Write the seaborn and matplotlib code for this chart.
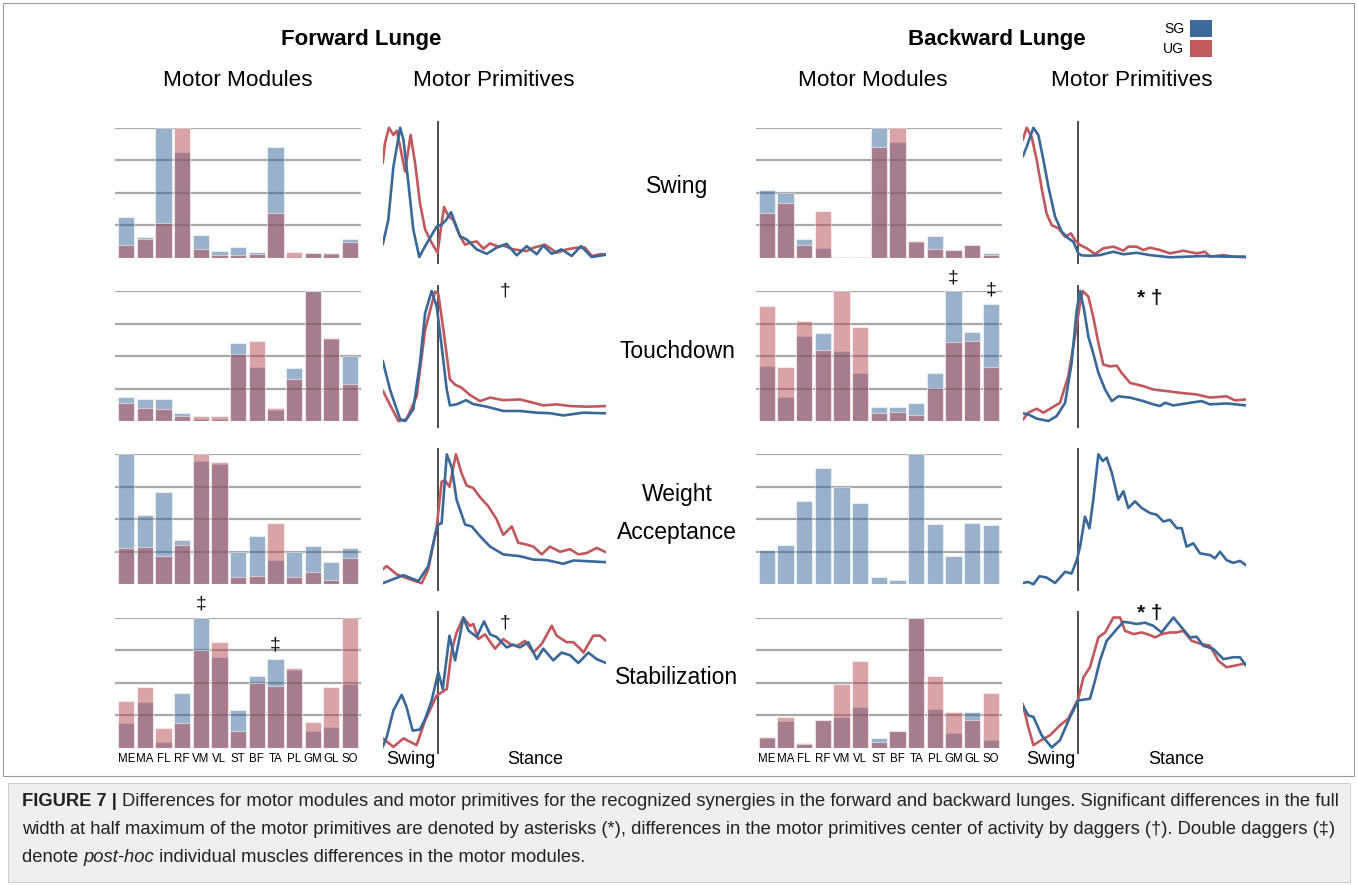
import numpy as np
import pandas as pd
import matplotlib
matplotlib.use("Agg")
import matplotlib.pyplot as plt
from matplotlib.patches import Rectangle
import seaborn as sns

# ---------------- data ----------------
MUSCLES = ['ME', 'MA', 'FL', 'RF', 'VM', 'VL', 'ST', 'BF', 'TA', 'PL', 'GM', 'GL', 'SO']

FL_SW_SG = [0.31, 0.156, 1.0, 0.815, 0.172, 0.049, 0.08, 0.044, 0.849, 0.008, 0.033, 0.028, 0.144]
FL_SW_UG = [0.097, 0.146, 0.264, 1.0, 0.064, 0.018, 0.023, 0.028, 0.346, 0.041, 0.033, 0.036, 0.123]
FL_TD_SG = [0.182, 0.167, 0.172, 0.064, 0.015, 0.015, 0.597, 0.413, 0.087, 0.408, 1.0, 0.631, 0.497]
FL_TD_UG = [0.141, 0.103, 0.09, 0.041, 0.041, 0.036, 0.515, 0.615, 0.103, 0.323, 1.0, 0.638, 0.287]
FL_WA_SG = [1.0, 0.531, 0.713, 0.338, 0.951, 0.923, 0.246, 0.372, 0.187, 0.246, 0.292, 0.169, 0.279]
FL_WA_UG = [0.282, 0.29, 0.218, 0.305, 1.0, 0.938, 0.059, 0.067, 0.469, 0.059, 0.097, 0.031, 0.205]
FL_ST_SG = [0.192, 0.35, 0.041, 0.417, 1.0, 0.698, 0.289, 0.547, 0.68, 0.596, 0.13, 0.161, 0.486]
FL_ST_UG = [0.355, 0.465, 0.151, 0.192, 0.749, 0.813, 0.128, 0.494, 0.476, 0.611, 0.2, 0.468, 1.0]
BL_SW_SG = [0.523, 0.5, 0.146, 0.072, 0.008, 0.003, 1.0, 0.89, 0.12, 0.164, 0.062, 0.095, 0.033]
BL_SW_UG = [0.341, 0.423, 0.1, 0.356, 0.003, 0.008, 0.851, 1.0, 0.126, 0.067, 0.062, 0.095, 0.018]
BL_TD_SG = [0.421, 0.182, 0.656, 0.674, 0.541, 0.367, 0.105, 0.105, 0.138, 0.367, 1.0, 0.687, 0.903]
BL_TD_UG = [0.885, 0.418, 0.767, 0.546, 1.0, 0.726, 0.062, 0.067, 0.049, 0.256, 0.608, 0.615, 0.413]
BL_WA_SG = [0.264, 0.3, 0.641, 0.897, 0.749, 0.623, 0.056, 0.036, 1.0, 0.467, 0.215, 0.474, 0.454]
BL_WA_UG = None
BL_ST_SG = [0.072, 0.203, 0.036, 0.213, 0.231, 0.31, 0.074, 0.126, 1.0, 0.295, 0.115, 0.274, 0.056]
BL_ST_UG = [0.082, 0.238, 0.026, 0.21, 0.485, 0.664, 0.044, 0.126, 1.0, 0.549, 0.274, 0.215, 0.418]

SWING_END = 24.7  # % of cycle

# motor primitives (x = % cycle, y = normalised amplitude)
FL_SW_SG_X = [0, 2.5, 4.8, 7.8, 9.3, 11.5, 13.7, 16.4, 18.2, 21.2, 24.2, 26.4, 28.4, 30.6, 32.4, 34.6, 37.6, 42.1, 46.6, 51.0,
              55.5, 60.0, 64.5, 69.0, 71.9, 75.7, 80.1, 84.6, 88.8, 93.6, 100]
FL_SW_SG_Y = [0.10, 0.29, 0.70, 1.0, 0.906, 0.574, 0.217, 0.005, 0.064, 0.153, 0.24, 0.255, 0.29, 0.35, 0.268, 0.166, 0.14, 0.064, 0.03, 0.077,
              0.107, 0.018, 0.089, 0.026, 0.094, 0.03, 0.064, 0.013, 0.089, 0.005, 0.023]
FL_SW_UG_X = [0, 1.0, 2.8, 4.8, 6.3, 7.8, 10.0, 12.5, 14.5, 16.7, 19.0, 21.9, 24.6, 26.0, 27.5, 29.4, 31.6, 34.6, 36.9, 39.1,
              42.1, 45.1, 48.1, 51.8, 54.0, 58.5, 64.5, 67.5, 72.7, 77.9, 82.4, 86.9, 90.6, 93.6, 97.3, 100]
FL_SW_UG_Y = [0.727, 0.88, 1.0, 0.944, 0.977, 0.855, 0.663, 0.944, 0.727, 0.42, 0.217, 0.115, 0.038, 0.217, 0.39, 0.32, 0.29, 0.166, 0.10, 0.115,
              0.125, 0.069, 0.11, 0.084, 0.094, 0.064, 0.051, 0.077, 0.10, 0.038, 0.064, 0.077, 0.077, 0.013, 0.026, 0.026]

FL_TD_SG_X = [0, 3.3, 7.8, 10.0, 13.7, 16.7, 19.0, 21.9, 24.2, 26.4, 28.7, 30.1, 33.1, 37.3, 40.6, 46.6, 54.0, 61.5, 69.0, 74.9,
              80.9, 89.9, 100]
FL_TD_SG_Y = [0.464, 0.24, 0.013, 0.0, 0.09, 0.45, 0.83, 1.0, 0.88, 0.574, 0.24, 0.12, 0.128, 0.16, 0.13, 0.11, 0.077, 0.077, 0.064, 0.06,
              0.043, 0.064, 0.059]
FL_TD_UG_X = [0, 7.0, 10.7, 15.2, 19.0, 23.4, 24.9, 27.2, 30.1, 32.4, 35.4, 39.1, 43.6, 48.1, 54.0, 61.5, 67.5, 71.9, 77.9, 83.9,
              91.3, 100]
FL_TD_UG_Y = [0.235, 0.0, 0.013, 0.19, 0.70, 0.995, 0.98, 0.70, 0.32, 0.28, 0.255, 0.20, 0.153, 0.18, 0.16, 0.166, 0.14, 0.12, 0.128, 0.115,
              0.11, 0.115]

FL_WA_SG_X = [0, 9.3, 16.0, 20.4, 23.4, 24.9, 26.4, 28.7, 30.9, 33.1, 36.9, 39.9, 43.6, 48.1, 54.0, 61.5, 67.5, 73.4, 80.9, 85.4,
              91.3, 100]
FL_WA_SG_Y = [0.008, 0.07, 0.025, 0.14, 0.37, 0.46, 0.47, 1.0, 0.90, 0.65, 0.46, 0.445, 0.37, 0.29, 0.23, 0.216, 0.19, 0.186, 0.158, 0.183,
              0.178, 0.17]
FL_WA_UG_X = [0, 1.8, 6.3, 12.2, 17.5, 20.4, 24.2, 26.4, 27.9, 29.9, 32.8, 35.4, 37.6, 40.6, 43.6, 47.3, 51.0, 54.0, 57.8, 60.7,
              64.5, 67.5, 71.2, 74.9, 79.4, 83.9, 87.6, 91.3, 95.8, 100]
FL_WA_UG_Y = [0.115, 0.14, 0.076, 0.038, 0.008, 0.115, 0.445, 0.79, 0.80, 0.75, 1.0, 0.85, 0.76, 0.74, 0.67, 0.60, 0.50, 0.38, 0.445, 0.32,
              0.305, 0.29, 0.23, 0.29, 0.25, 0.27, 0.23, 0.24, 0.28, 0.247]

FL_ST_SG_X = [0, 1.8, 4.8, 8.5, 10.7, 13.4, 16.7, 19.0, 21.9, 24.9, 26.9, 29.9, 32.4, 33.9, 36.1, 38.4, 40.6, 42.1, 45.4, 48.1,
              51.0, 55.5, 58.5, 61.5, 65.2, 69.0, 71.9, 76.4, 80.1, 83.9, 87.6, 92.1, 95.8, 100]
FL_ST_SG_Y = [0.005, 0.08, 0.286, 0.405, 0.31, 0.13, 0.138, 0.22, 0.36, 0.58, 0.45, 0.86, 0.67, 0.80, 1.0, 0.9, 0.87, 0.85, 0.97, 0.87,
              0.85, 0.77, 0.79, 0.77, 0.81, 0.68, 0.76, 0.67, 0.73, 0.71, 0.65, 0.73, 0.68, 0.65]
FL_ST_UG_X = [0, 4.8, 9.3, 15.2, 19.0, 24.2, 28.7, 30.9, 33.1, 36.1, 39.1, 40.6, 42.8, 45.8, 50.3, 54.0, 57.0, 60.0, 63.7, 67.5,
              71.2, 75.7, 77.9, 82.4, 85.4, 88.4, 89.9, 94.3, 97.3, 100]
FL_ST_UG_Y = [0.07, 0.005, 0.07, 0.018, 0.21, 0.40, 0.45, 0.745, 0.885, 1.0, 0.936, 0.95, 0.834, 0.87, 0.76, 0.834, 0.796, 0.78, 0.82, 0.73,
              0.796, 0.936, 0.86, 0.81, 0.81, 0.76, 0.73, 0.86, 0.86, 0.82]

BL_SW_SG_X = [0, 1.8, 4.8, 7.0, 9.3, 11.5, 14.5, 17.5, 20.4, 22.7, 24.9, 26.4, 30.1, 34.6, 40.6, 45.1, 51.0, 57.0, 66.0, 73.4,
              80.9, 91.3, 100]
BL_SW_SG_Y = [0.777, 0.854, 1.0, 0.944, 0.75, 0.546, 0.315, 0.2, 0.149, 0.123, 0.033, 0.018, 0.015, 0.02, 0.046, 0.026, 0.038, 0.02, 0.003, 0.008,
              0.013, 0.008, 0.008]
BL_SW_UG_X = [0, 1.8, 4.0, 6.3, 8.5, 10.7, 13.0, 16.0, 19.0, 21.6, 23.4, 25.7, 28.7, 32.4, 36.1, 40.6, 45.1, 47.3, 51.0, 54.0,
              57.0, 61.5, 66.0, 71.9, 77.9, 81.6, 83.9, 89.9, 94.3, 100]
BL_SW_UG_Y = [0.905, 1.0, 0.93, 0.75, 0.533, 0.34, 0.25, 0.226, 0.16, 0.187, 0.136, 0.097, 0.072, 0.028, 0.072, 0.085, 0.054, 0.085, 0.085, 0.059,
              0.077, 0.059, 0.033, 0.054, 0.033, 0.046, 0.008, 0.02, 0.008, 0.003]

BL_TD_SG_X = [0, 2.5, 6.3, 11.5, 15.2, 19.0, 21.9, 24.2, 25.7, 27.5, 29.4, 31.6, 33.9, 36.9, 39.9, 42.8, 48.1, 54.0, 58.5, 61.5,
              63.7, 67.5, 74.9, 80.1, 83.9, 91.3, 100]
BL_TD_SG_Y = [0.059, 0.051, 0.018, 0.0, 0.038, 0.14, 0.446, 0.855, 1.0, 0.855, 0.65, 0.52, 0.37, 0.242, 0.153, 0.19, 0.18, 0.153, 0.128, 0.115,
              0.14, 0.12, 0.14, 0.153, 0.128, 0.135, 0.12]
BL_TD_UG_X = [0, 2.5, 6.3, 9.3, 13.0, 16.7, 20.4, 23.4, 25.7, 26.9, 29.4, 31.6, 33.9, 36.1, 39.1, 42.1, 44.3, 48.1, 54.0, 58.5,
              64.5, 70.4, 77.9, 83.9, 91.3, 95.1, 100]
BL_TD_UG_Y = [0.008, 0.064, 0.094, 0.064, 0.102, 0.14, 0.344, 0.65, 0.906, 1.0, 0.957, 0.80, 0.6, 0.434, 0.42, 0.426, 0.37, 0.293, 0.268, 0.242,
              0.23, 0.217, 0.204, 0.18, 0.19, 0.158, 0.166]

BL_WA_SG_X = [0, 2.5, 4.8, 7.5, 10.7, 14.5, 19.0, 21.9, 24.2, 25.7, 27.9, 29.9, 31.6, 33.9, 35.8, 37.6, 39.9, 42.8, 45.1, 47.3,
              50.3, 53.3, 57.0, 60.0, 63.0, 66.0, 69.0, 71.2, 73.4, 76.4, 79.4, 83.9, 86.1, 88.4, 91.3, 94.3, 97.3, 100]
BL_WA_SG_Y = [0.01, 0.018, 0.0, 0.062, 0.052, 0.01, 0.096, 0.083, 0.186, 0.29, 0.52, 0.43, 0.65, 1.0, 0.948, 0.974, 0.858, 0.65, 0.716, 0.587,
              0.638, 0.587, 0.548, 0.535, 0.483, 0.496, 0.432, 0.432, 0.29, 0.315, 0.238, 0.225, 0.2, 0.25, 0.186, 0.165, 0.18, 0.147]

BL_ST_SG_X = [0, 2.5, 4.8, 8.5, 13.0, 16.7, 21.2, 24.9, 30.1, 32.4, 34.6, 37.6, 42.1, 45.1, 48.1, 51.0, 54.8, 58.5, 62.2, 64.5,
              67.5, 71.2, 74.9, 77.9, 80.9, 85.4, 89.9, 94.3, 97.3, 100]
BL_ST_SG_Y = [0.324, 0.247, 0.235, 0.094, 0.0, 0.056, 0.235, 0.362, 0.375, 0.515, 0.668, 0.82, 0.91, 0.967, 0.96, 0.95, 0.96, 0.936, 0.885, 0.936,
              1.0, 0.923, 0.847, 0.852, 0.783, 0.758, 0.68, 0.694, 0.694, 0.63]
BL_ST_UG_X = [0, 2.5, 4.8, 7.0, 12.2, 16.7, 20.4, 24.9, 27.2, 30.1, 33.9, 36.9, 40.6, 43.6, 45.8, 49.6, 53.3, 57.0, 59.3, 62.2,
              66.0, 69.0, 71.9, 75.7, 80.1, 83.9, 87.6, 91.3, 95.1, 100]
BL_ST_UG_Y = [0.337, 0.158, 0.018, 0.043, 0.094, 0.171, 0.222, 0.375, 0.54, 0.617, 0.847, 0.885, 1.0, 1.0, 0.898, 0.872, 0.885, 0.865, 0.847, 0.872,
              0.885, 0.885, 0.898, 0.82, 0.796, 0.783, 0.668, 0.617, 0.63, 0.648]

# ---------------- style ----------------
sns.set_style('white')
plt.rcParams['font.family'] = ['Liberation Sans', 'DejaVu Sans']
plt.rcParams['text.color'] = 'black'

W, H = 1357, 885
SG_BAR = '#376599'
UG_BAR = '#b24b52'
SG_LINE = '#3a6898'
UG_LINE = '#c0585d'
GRID = '#a8a8a8'

fig = plt.figure(figsize=(W / 100, H / 100), dpi=100)


def axes_px(left, top, right, bottom):
    return fig.add_axes([left / W, 1 - bottom / H, (right - left) / W, (bottom - top) / H])


ROW_TOP = [127.7, 291.0, 454.3, 617.5]
ROW_H = 130.0

bar_sets = [
    (115.1, 361.2, [(FL_SW_SG, FL_SW_UG), (FL_TD_SG, FL_TD_UG), (FL_WA_SG, FL_WA_UG), (FL_ST_SG, FL_ST_UG)]),
    (755.5, 1002.0, [(BL_SW_SG, BL_SW_UG), (BL_TD_SG, BL_TD_UG), (BL_WA_SG, BL_WA_UG), (BL_ST_SG, BL_ST_UG)]),
]
bar_axes = {}
for gi, (lft, rgt, rows) in enumerate(bar_sets):
    for ri, (sg, ug) in enumerate(rows):
        ax = axes_px(lft, ROW_TOP[ri], rgt, ROW_TOP[ri] + ROW_H)
        for gy in [0.25, 0.5, 0.75, 1.0]:
            ax.axhline(gy, color=GRID, lw=1.6, zorder=0)
        df = pd.DataFrame({'muscle': MUSCLES, 'SG': sg})
        sns.barplot(data=df, x='muscle', y='SG', color=SG_BAR, alpha=0.5, saturation=1,
                    width=0.87, edgecolor='white', linewidth=0.8, errorbar=None, ax=ax, zorder=2)
        if ug is not None:
            df2 = pd.DataFrame({'muscle': MUSCLES, 'UG': ug})
            sns.barplot(data=df2, x='muscle', y='UG', color=UG_BAR, alpha=0.5, saturation=1,
                        width=0.87, edgecolor='white', linewidth=0.8, errorbar=None, ax=ax, zorder=3)
        ax.set_xlim(-0.6, 12.6)
        ax.set_ylim(0, 1)
        ax.set_xlabel('')
        ax.set_ylabel('')
        ax.set_yticks([])
        for s in ax.spines.values():
            s.set_visible(False)
        ax.patch.set_alpha(0)
        if ri == 3:
            ax.set_xticks(range(len(MUSCLES)))
            ax.set_xticklabels(MUSCLES, fontsize=8.3, color='black')
            ax.tick_params(axis='x', length=0, pad=4)
        else:
            ax.set_xticks([])
        bar_axes[(gi, ri)] = ax

line_sets = [
    (382.7, 606.0, [((FL_SW_SG_X, FL_SW_SG_Y), (FL_SW_UG_X, FL_SW_UG_Y)),
                    ((FL_TD_SG_X, FL_TD_SG_Y), (FL_TD_UG_X, FL_TD_UG_Y)),
                    ((FL_WA_SG_X, FL_WA_SG_Y), (FL_WA_UG_X, FL_WA_UG_Y)),
                    ((FL_ST_SG_X, FL_ST_SG_Y), (FL_ST_UG_X, FL_ST_UG_Y))]),
    (1022.7, 1246.0, [((BL_SW_SG_X, BL_SW_SG_Y), (BL_SW_UG_X, BL_SW_UG_Y)),
                      ((BL_TD_SG_X, BL_TD_SG_Y), (BL_TD_UG_X, BL_TD_UG_Y)),
                      ((BL_WA_SG_X, BL_WA_SG_Y), None),
                      ((BL_ST_SG_X, BL_ST_SG_Y), (BL_ST_UG_X, BL_ST_UG_Y))]),
]
line_axes = {}
pad = 0.05 * ROW_H
for gi, (lft, rgt, rows) in enumerate(line_sets):
    for ri, (sg, ug) in enumerate(rows):
        ax = axes_px(lft, ROW_TOP[ri] - pad, rgt, ROW_TOP[ri] + ROW_H + pad)
        ax.axvline(SWING_END, color='#1a1a1a', lw=1.1, zorder=1)
        if ug is not None:
            sns.lineplot(x=ug[0], y=ug[1], color=UG_LINE, lw=1.9, ax=ax, zorder=3)
        sns.lineplot(x=sg[0], y=sg[1], color=SG_LINE, lw=1.9, ax=ax, zorder=4)
        ax.set_xlim(0, 100)
        ax.set_ylim(-0.05, 1.05)
        ax.set_xticks([])
        ax.set_yticks([])
        ax.set_xlabel('')
        ax.set_ylabel('')
        for s in ax.spines.values():
            s.set_visible(False)
        ax.patch.set_alpha(0)
        line_axes[(gi, ri)] = ax


def ftxt(x, y, s, **kw):
    kw.setdefault('color', 'black')
    return fig.text(x / W, 1 - y / H, s, **kw)


# headings
ftxt(361, 40, 'Forward Lunge', ha='center', va='center', fontsize=16, fontweight='bold')
ftxt(997, 40, 'Backward Lunge', ha='center', va='center', fontsize=16, fontweight='bold')
for cx, s in [(238, 'Motor Modules'), (494, 'Motor Primitives'), (873, 'Motor Modules'), (1132, 'Motor Primitives')]:
    ftxt(cx, 80, s, ha='center', va='center', fontsize=16.2)

# synergy names
ftxt(677, 186, 'Swing', ha='center', va='center', fontsize=16.5)
ftxt(677, 352, 'Touchdown', ha='center', va='center', fontsize=16.5)
ftxt(677, 494, 'Weight', ha='center', va='center', fontsize=16.5)
ftxt(677, 532, 'Acceptance', ha='center', va='center', fontsize=16.5)
ftxt(677, 678, 'Stabilization', ha='center', va='center', fontsize=16.5)

# swing / stance labels
for cx, s in [(411, 'Swing'), (535, 'Stance'), (1051, 'Swing'), (1176, 'Stance')]:
    ftxt(cx, 760, s, ha='center', va='center', fontsize=13)

# significance marks
MARK = dict(ha='center', va='center', fontsize=14, color='#111111')
bar_axes[(0, 3)].text(4, 1.10, '\u2021', **MARK)
bar_axes[(0, 3)].text(8, 0.79, '\u2021', **MARK)
bar_axes[(1, 1)].text(10, 1.10, '\u2021', **MARK)
bar_axes[(1, 1)].text(12, 1.01, '\u2021', **MARK)
line_axes[(0, 1)].text(54.8, 1.0, '\u2020', **MARK)
line_axes[(0, 3)].text(54.8, 0.96, '\u2020', **MARK)
line_axes[(1, 1)].text(57, 0.94, '* \u2020', ha='center', va='center', fontsize=15, fontweight='bold', color='#111111')
line_axes[(1, 3)].text(57, 1.03, '* \u2020', ha='center', va='center', fontsize=15, fontweight='bold', color='#111111')

# legend
for yy, lab, col in [(20, 'SG', '#3d6a99'), (40, 'UG', '#c05a5f')]:
    fig.patches.append(Rectangle((1190 / W, 1 - (yy + 17) / H), 22 / W, 17 / H,
                                 transform=fig.transFigure, facecolor=col, edgecolor='none'))
    ftxt(1184, yy + 9, lab, ha='right', va='center', fontsize=10)

# frame around the chart area
fig.patches.append(Rectangle((3 / W, 1 - 776 / H), 1351 / W, 773 / H, transform=fig.transFigure,
                             facecolor='none', edgecolor='#9a9a9a', lw=0.8))
# caption box
fig.patches.append(Rectangle((8 / W, 1 - 882 / H), 1342 / W, 99 / H, transform=fig.transFigure,
                             facecolor='#efefef', edgecolor='#d0d0d0', lw=0.8))

renderer = fig.canvas.get_renderer()


def run_line(x0, ybase, parts, size=13.25):
    x = x0
    for txt, weight, style in parts:
        t = fig.text(x / W, 1 - ybase / H, txt, ha='left', va='baseline', fontsize=size,
                     fontweight=weight, fontstyle=style, color='#222222')
        bb = t.get_window_extent(renderer)
        x += bb.width


run_line(22, 806, [('FIGURE 7 | ', 'bold', 'normal'),
                   ('Differences for motor modules and motor primitives for the recognized synergies in the forward and backward lunges. Significant differences in the full', 'normal', 'normal')])
run_line(22, 834, [('width at half maximum of the motor primitives are denoted by asterisks (*), differences in the motor primitives center of activity by daggers (\u2020). Double daggers (\u2021)', 'normal', 'normal')])
run_line(22, 862, [('denote ', 'normal', 'normal'), ('post-hoc', 'normal', 'italic'),
                   (' individual muscles differences in the motor modules.', 'normal', 'normal')])

fig.savefig('out.png', dpi=100)
